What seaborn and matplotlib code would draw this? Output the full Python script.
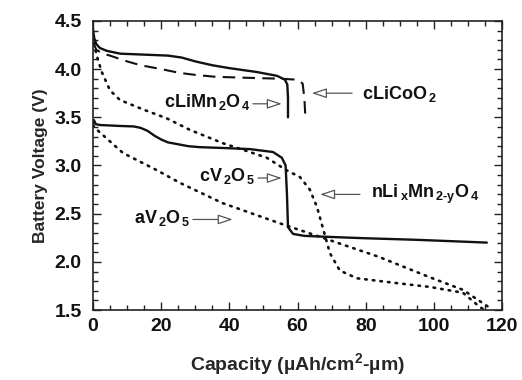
import matplotlib
matplotlib.use("Agg")
import matplotlib.pyplot as plt
import seaborn as sns
from matplotlib.ticker import MultipleLocator

# ---- data ----
limn_x = [0, 0.4, 1, 2, 4, 8, 15, 22, 26, 30, 35, 40, 48, 54, 56.3, 57.0, 57.2, 57.2]
limn_y = [4.42, 4.32, 4.26, 4.22, 4.19, 4.16, 4.15, 4.14, 4.12, 4.08, 4.04, 4.01, 3.97, 3.93, 3.89, 3.84, 3.70, 3.50]

lico_x = [0, 1, 3, 5, 10, 14, 20, 25.5, 30, 36, 45, 55, 60, 61.5, 62.0, 62.3]
lico_y = [4.28, 4.20, 4.16, 4.14, 4.08, 4.04, 4.00, 3.96, 3.94, 3.92, 3.91, 3.90, 3.89, 3.85, 3.70, 3.50]

cv_x = [0, 0.3, 0.8, 2, 8, 12, 14, 16, 18, 20, 22, 25, 28, 31.4, 39.3, 46, 52.8, 55.4, 56.5, 56.9, 57.2, 58.7, 62, 68.6, 80, 94, 105, 115.5]
cv_y = [3.43, 3.47, 3.43, 3.42, 3.41, 3.405, 3.39, 3.36, 3.31, 3.27, 3.24, 3.22, 3.20, 3.19, 3.18, 3.17, 3.14, 3.08, 3.00, 2.70, 2.36, 2.29, 2.27, 2.26, 2.245, 2.23, 2.215, 2.20]

nli_x = [0, 0.6, 1.2, 2.6, 5, 7.9, 14.8, 21.6, 28.4, 38.2, 46, 51, 56.8, 60.7, 63.6, 65.7, 67.6, 69.5, 72.4, 77.4, 89, 98.8, 108.5, 113.5, 115]
nli_y = [4.35, 4.22, 4.13, 3.97, 3.78, 3.68, 3.58, 3.49, 3.37, 3.23, 3.14, 3.08, 2.95, 2.88, 2.75, 2.57, 2.33, 2.09, 1.91, 1.83, 1.78, 1.74, 1.68, 1.53, 1.50]

av_x = [0, 1.2, 8.8, 18.8, 25.5, 38, 54.8, 67.4, 84, 98.8, 108.5, 116.5]
av_y = [3.42, 3.37, 3.13, 2.95, 2.82, 2.61, 2.40, 2.25, 2.05, 1.84, 1.71, 1.52]

x_ticks = [0, 20, 40, 60, 80, 100, 120]
y_ticks = [1.5, 2.0, 2.5, 3.0, 3.5, 4.0, 4.5]

# ---- style ----
sns.set_style("ticks")
plt.rcParams["font.family"] = ["Liberation Sans", "DejaVu Sans"]
plt.rcParams["font.weight"] = "bold"
plt.rcParams["mathtext.fontset"] = "custom"
plt.rcParams["mathtext.rm"] = "Liberation Sans:bold"
plt.rcParams["mathtext.it"] = "Liberation Sans:bold"
plt.rcParams["mathtext.bf"] = "Liberation Sans:bold"
plt.rcParams["mathtext.default"] = "bf"

fig = plt.figure(figsize=(5.22, 3.80), dpi=100)
ax = fig.add_axes([0.178, 0.184, 0.784, 0.761])

k = "#111111"
sns.lineplot(x=limn_x, y=limn_y, ax=ax, color=k, lw=1.7, sort=False, estimator=None)
sns.lineplot(x=lico_x, y=lico_y, ax=ax, color=k, lw=1.5, sort=False, estimator=None,
             linestyle=(0, (6, 3.5)))
sns.lineplot(x=cv_x, y=cv_y, ax=ax, color=k, lw=1.7, sort=False, estimator=None)
sns.lineplot(x=nli_x, y=nli_y, ax=ax, color=k, lw=1.9, sort=False, estimator=None,
             linestyle=(0, (0.6, 2.3)), dash_capstyle="round")
sns.lineplot(x=av_x, y=av_y, ax=ax, color=k, lw=1.9, sort=False, estimator=None,
             linestyle=(0, (0.6, 2.3)), dash_capstyle="round")

ax.set_xlim(0, 120)
ax.set_ylim(1.5, 4.5)
ax.set_xticks(x_ticks)
ax.set_yticks(y_ticks)
ax.set_xticklabels([str(v) for v in x_ticks])
ax.set_yticklabels([f"{v:.1f}" for v in y_ticks])
ax.xaxis.set_minor_locator(MultipleLocator(5))
ax.yaxis.set_minor_locator(MultipleLocator(0.1))
ax.tick_params(which="both", direction="in", top=True, right=True, width=1.0, colors="#222222")
ax.tick_params(which="major", length=6, labelsize=14)
ax.tick_params(which="minor", length=3.5)
ax.tick_params(axis="y", which="major", pad=8)
ax.tick_params(axis="x", which="major", pad=6)
for lab in ax.get_xticklabels() + ax.get_yticklabels():
    lab.set_fontweight("bold")
    lab.set_color("#111111")
for s in ax.spines.values():
    s.set_linewidth(1.2)
    s.set_color("#222222")

ax.set_xlabel("Capacity (µAh/cm$^2$-µm)", fontsize=14, fontweight="bold", labelpad=11)
ax.set_ylabel("Battery Voltage (V)", fontsize=12.5, fontweight="bold", labelpad=5)

# ---- annotations ----
ap = dict(arrowstyle="-|>,head_length=0.9,head_width=0.3", edgecolor="#555555",
          facecolor="white", lw=0.9, shrinkA=0, shrinkB=0)
fs = 13
tk = dict(fontsize=fs, fontweight="bold", color="#111111")
ax.annotate("", xy=(55.4, 3.64), xytext=(46.9, 3.64), arrowprops=ap)
ax.text(46.3, 3.66, "cLiMn$_{\\,2}$O$_{\\,4}$", ha="right", va="center", **tk)

ax.annotate("", xy=(64.2, 3.75), xytext=(76.0, 3.75), arrowprops=ap)
ax.text(79.0, 3.74, "cLiCoO$_{\\,2}$", ha="left", va="center", **tk)

ax.annotate("", xy=(55.4, 2.87), xytext=(48.4, 2.87), arrowprops=ap)
ax.text(47.6, 2.89, "cV$_{\\,2}$O$_{\\,5}$", ha="right", va="center", **tk)

ax.annotate("", xy=(66.6, 2.70), xytext=(78.3, 2.70), arrowprops=ap)
ax.text(81.5, 2.70, "nLi$_{\\,x}$Mn$_{\\,2\\text{-}y}$O$_{\\,4}$", ha="left", va="center", **tk)

ax.annotate("", xy=(41.0, 2.44), xytext=(29.3, 2.44), arrowprops=ap)
ax.text(28.6, 2.46, "aV$_{\\,2}$O$_{\\,5}$", ha="right", va="center", **tk)

fig.savefig("out.png", dpi=100)
